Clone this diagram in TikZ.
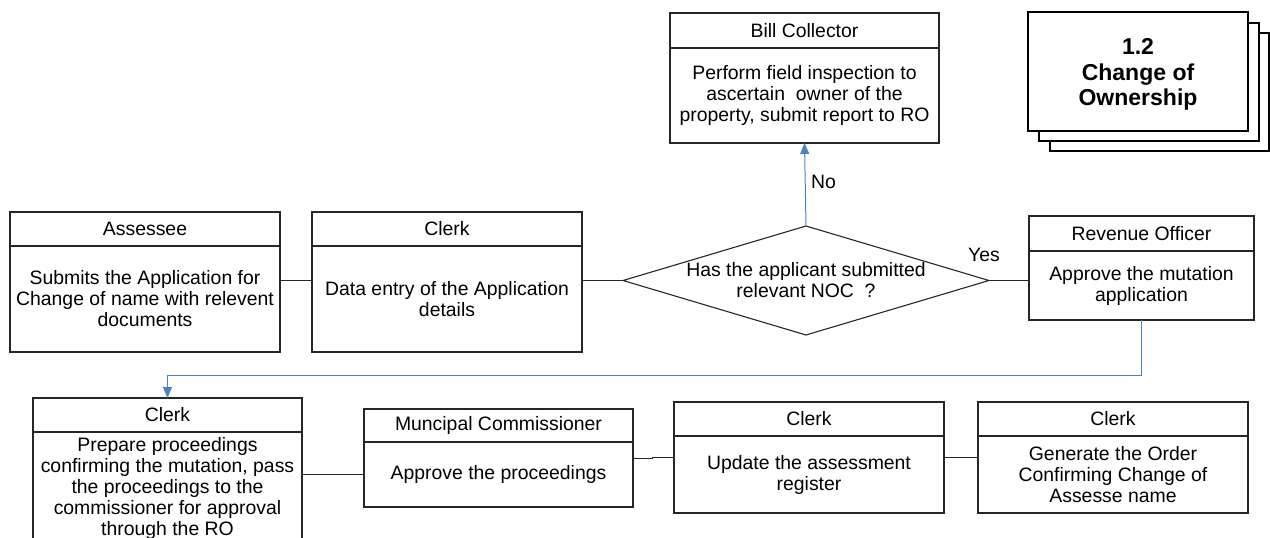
\documentclass[tikz,border=0pt]{standalone}
\usepackage{fontspec}
\setmainfont{Liberation Sans}
\usetikzlibrary{shapes.geometric,arrows.meta,calc}
\definecolor{flowblue}{RGB}{79,129,189}
\begin{document}
\begin{tikzpicture}[x=1pt,y=-1pt,
  every node/.style={font=\fontsize{19.4}{21}\selectfont, inner sep=0pt, outer sep=0pt},
  hdr/.style={draw=black!85, line width=1.1pt, rectangle, align=center},
  bodyb/.style={draw=black!85, line width=1.1pt, rectangle, align=center},
  decision/.style={draw=black!85, line width=1.1pt, diamond},
  stackcard/.style={draw=black, fill=white, line width=1.6pt, rectangle, align=center,
    font=\fontsize{23}{25.5}\selectfont\bfseries},
  link/.style={draw=black!85, line width=1pt},
  flow/.style={draw=flowblue, line width=1pt, -{Triangle[length=11pt,width=9pt]}}
]
\useasboundingbox (0,0) rectangle (1270,538);
\clip (0,0) rectangle (1270,538);

% title card (stacked)
\node[stackcard, minimum width=219pt, minimum height=118pt] (st3) at (1159.5,92) {};
\node[stackcard, minimum width=220pt, minimum height=118pt] (st2) at (1149,82) {};
\node[stackcard, minimum width=220pt, minimum height=119pt] (st1) at (1138,71.5) {};
\node[align=center, font=\fontsize{23}{25.5}\selectfont\bfseries] (st1t) at (1138,74.5)
  {1.2\\Change of\\Ownership};

% Bill Collector
\node[hdr, minimum width=269pt, minimum height=35pt] (bcH) at (804.5,30.5) {Bill Collector};
\node[bodyb, minimum width=269pt, minimum height=95pt] (bcB) at (804.5,95.5)
  {Perform field inspection to\\ascertain\ \ owner of the\\property, submit report to RO};

% Assessee
\node[hdr, minimum width=270pt, minimum height=34pt] (asH) at (145,229) {Assessee};
\node[bodyb, minimum width=270pt, minimum height=106pt] (asB) at (145,299)
  {Submits the Application for\\Change of name with relevent\\documents};

% Clerk (data entry)
\node[hdr, minimum width=270pt, minimum height=34pt] (ck1H) at (447,229) {Clerk};
\node[bodyb, minimum width=270pt, minimum height=106pt] (ck1B) at (447,299)
  {Data entry of the Application\\details};

% decision
\node[decision, minimum width=366pt, minimum height=109pt] (dec) at (806,280.5) {};
\node[align=center] (decq) at (806,280.5) {Has the applicant submitted\\relevant NOC\ \ ?};

% Revenue Officer
\node[hdr, minimum width=225pt, minimum height=35pt] (roH) at (1141.5,233.5) {Revenue Officer};
\node[bodyb, minimum width=225pt, minimum height=69pt] (roB) at (1141.5,285.5)
  {Approve the mutation\\application};

% Clerk (proceedings)
\node[hdr, minimum width=269pt, minimum height=34pt] (ck2H) at (167.5,415) {Clerk};
\node[bodyb, minimum width=269pt, minimum height=113pt] (ck2B) at (167.5,488.5)
  {Prepare proceedings\\confirming the mutation, pass\\the proceedings to the\\commissioner for approval\\through the RO};

% Muncipal Commissioner
\node[hdr, minimum width=269pt, minimum height=33pt] (mcH) at (498.5,425.5) {Muncipal Commissioner};
\node[bodyb, minimum width=269pt, minimum height=65pt] (mcB) at (498.5,474.5)
  {Approve the proceedings};

% Clerk (register)
\node[hdr, minimum width=270pt, minimum height=34pt] (ck3H) at (809,419) {Clerk};
\node[bodyb, minimum width=270pt, minimum height=77pt] (ck3B) at (809,474.5)
  {Update the assessment\\register};

% Clerk (order)
\node[hdr, minimum width=270pt, minimum height=34pt] (ck4H) at (1113,419) {Clerk};
\node[bodyb, minimum width=270pt, minimum height=77pt] (ck4B) at (1113,474.5)
  {Generate the Order\\Confirming Change of\\Assesse name};

% connectors
\draw[link] (asB.east |- dec.west) -- (ck1B.west |- dec.west);
\draw[link] (ck1B.east |- dec.west) -- (dec.west);
\draw[link] (dec.east) -- (roB.west |- dec.east);
\draw[flow] (dec.north) -- (bcB.south);
\node[anchor=west] (nolbl) at (811,182) {No};
\node (yeslbl) at (984,255) {Yes};
\draw[flow] (roB.south) -- ++(0,55) -| (ck2H.north);
\draw[link] (ck2B.east |- mcB.west) -- (mcB.west);
\draw[link] ([yshift=16pt]mcB.east) -- ++(19,0) |- ([yshift=17.5pt]ck3B.west);
\draw[link] ([yshift=17.5pt]ck3B.east) -- ([yshift=17.5pt]ck4B.west);
\end{tikzpicture}
\end{document}
